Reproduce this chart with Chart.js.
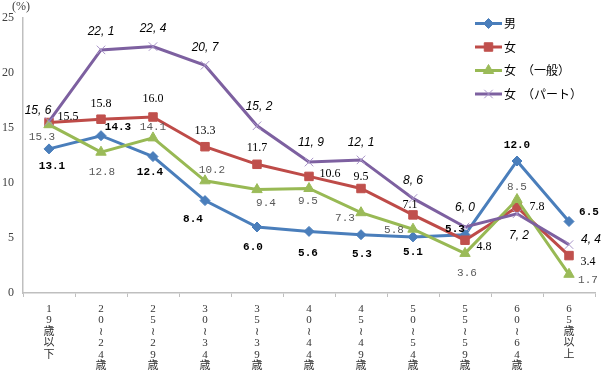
<!DOCTYPE html>
<html>
<head>
<meta charset="utf-8">
<script src="https://cdn.jsdelivr.net/npm/chart.js@4.4.1/dist/chart.umd.min.js"></script>
<style>body{margin:0;background:#fff}</style>
</head>
<body>
<canvas id="chart" width="602" height="376"></canvas>
<script>
// data
const categories = ['19歳以下', '20～24歳', '25～29歳', '30～34歳', '35～39歳', '40～44歳',
  '45～49歳', '50～54歳', '55～59歳', '60～64歳', '65歳以上'];
const seriesNames = ['男', '女', '女　（一般）', '女　（パート）'];
const maleValues = [13.1, 14.3, 12.4, 8.4, 6.0, 5.6, 5.3, 5.1, 5.3, 12.0, 6.5];
const femaleValues = [15.5, 15.8, 16.0, 13.3, 11.7, 10.6, 9.5, 7.1, 4.8, 7.8, 3.4];
const femaleRegularValues = [15.3, 12.8, 14.1, 10.2, 9.4, 9.5, 7.3, 5.8, 3.6, 8.5, 1.7];
const femalePartValues = [15.6, 22.1, 22.4, 20.7, 15.2, 11.9, 12.1, 8.6, 6.0, 7.2, 4.4];
const yTicks = [0, 5, 10, 15, 20, 25];

// where each value label sits relative to its point
const maleLabelOffsets = [[3,17],[17,-8],[-3,16],[-12,19],[-4,20],[-1,22],[1,20],[0,15],[-10,-5],[0,-16],[20,-9]];
const femaleLabelOffsets = [[19,-6],[0,-15],[0,-18],[0,-16],[0,-16],[21,-3],[0,-12],[-3,-10],[19,7],[20,0],[19,6]];
const regularLabelOffsets = [[-7,12],[1,20],[0,-11],[7,-11],[9,13],[-1,13],[-16,5],[-19,1],[2,20],[0,-12],[19,6]];
const partLabelOffsets = [[-11,-11],[0,-18],[0,-18],[0,-18],[2,-19],[2,-19],[0,-17],[0,-18],[0,-19],[2,22],[22,-5]];

const fmt = v => v.toFixed(1);
const labelStyles = [
  { font: 'bold 11px "Liberation Mono"', color: '#000', offsets: maleLabelOffsets, format: fmt },
  { font: '12px "Liberation Serif"', color: '#000', offsets: femaleLabelOffsets, format: fmt },
  { font: '11px "Liberation Mono"', color: '#595959', offsets: regularLabelOffsets, format: fmt },
  { font: 'italic 12px "Liberation Sans"', color: '#000', offsets: partLabelOffsets, format: v => fmt(v).replace('.', ', ') }
];

const valueLabels = {
  id: 'valueLabels',
  afterDatasetsDraw(chart) {
    const ctx = chart.ctx;
    chart.data.datasets.forEach((ds, i) => {
      const st = labelStyles[i];
      const meta = chart.getDatasetMeta(i);
      ctx.save();
      ctx.font = st.font;
      ctx.fillStyle = st.color;
      ctx.textAlign = 'center';
      ctx.textBaseline = 'middle';
      meta.data.forEach((pt, j) => {
        const off = st.offsets[j];
        ctx.fillText(st.format(ds.data[j]), pt.x + off[0], pt.y + off[1]);
      });
      ctx.restore();
    });
  }
};

const sideLegend = {
  id: 'sideLegend',
  afterDraw(chart) {
    const ctx = chart.ctx;
    ctx.save();
    // unit label
    ctx.font = '12px "Liberation Serif"';
    ctx.fillStyle = '#404040';
    ctx.textAlign = 'center';
    ctx.textBaseline = 'middle';
    ctx.fillText('(%)', 21, 7);

    chart.data.datasets.forEach((ds, i) => {
      const y = 23.5 + i * 23.5;
      ctx.strokeStyle = ds.borderColor;
      ctx.lineWidth = 3;
      ctx.beginPath();
      ctx.moveTo(475, y);
      ctx.lineTo(502, y);
      ctx.stroke();
      ctx.fillStyle = ds.pointBackgroundColor;
      ctx.strokeStyle = ds.pointBorderColor;
      ctx.lineWidth = ds.pointBorderWidth;
      Chart.helpers.drawPoint(ctx, {
        pointStyle: ds.pointStyle, radius: ds.pointRadius, rotation: 0, borderWidth: ds.pointBorderWidth
      }, 488.5, y);
      ctx.font = '12px "Noto Sans CJK JP"';
      ctx.fillStyle = '#000';
      ctx.textAlign = 'left';
      ctx.fillText(ds.label, 504, y);
    });
    ctx.restore();
  }
};

new Chart(document.getElementById('chart'), {
  type: 'line',
  data: {
    labels: categories,
    datasets: [
      { label: seriesNames[0], data: maleValues, borderColor: '#4A7EBB', borderWidth: 3,
        pointStyle: 'rectRot', pointRadius: 5, pointBackgroundColor: '#4A7EBB', pointBorderColor: '#4A7EBB', pointBorderWidth: 1, order: 3 },
      { label: seriesNames[1], data: femaleValues, borderColor: '#BE4B48', borderWidth: 3,
        pointStyle: 'rect', pointRadius: 6, pointBackgroundColor: '#C0504D', pointBorderColor: '#C0504D', pointBorderWidth: 1, order: 2 },
      { label: seriesNames[2], data: femaleRegularValues, borderColor: '#98B954', borderWidth: 3,
        pointStyle: 'triangle', pointRadius: 6, pointBackgroundColor: '#9BBB59', pointBorderColor: '#9BBB59', pointBorderWidth: 1, order: 1 },
      { label: seriesNames[3], data: femalePartValues, borderColor: '#7D60A0', borderWidth: 3,
        pointStyle: 'crossRot', pointRadius: 6, pointBackgroundColor: '#A894C8', pointBorderColor: '#A894C8', pointBorderWidth: 1, order: 0 }
    ]
  },
  options: {
    responsive: false,
    animation: false,
    layout: { padding: { top: 18, right: 7, left: 0, bottom: 0 } },
    plugins: { legend: { display: false }, tooltip: { enabled: false } },
    scales: {
      x: {
        offset: true,
        grid: { display: true, drawOnChartArea: false, drawTicks: true, tickLength: 4, color: '#bfbfbf', offset: true },
        border: { display: true, color: '#bfbfbf', width: 1.5 },
        ticks: {
          autoSkip: false, maxRotation: 0, minRotation: 0, padding: 6, color: '#333',
          font: { family: '"Liberation Serif", "Noto Sans CJK JP"', size: 11, lineHeight: 1.05 },
          callback: function (value) {
            return Array.from(this.getLabelForValue(value)).map(ch => ch === '～' ? '≀' : ch);
          }
        },
        afterFit: s => { s.height = 83; }
      },
      y: {
        min: 0, max: 25,
        afterBuildTicks: s => { s.ticks = yTicks.map(v => ({ value: v })); },
        grid: { display: true, drawOnChartArea: false, drawTicks: false, color: '#bfbfbf' },
        border: { display: true, color: '#bfbfbf', width: 1.5 },
        ticks: { padding: 9, color: '#404040', font: { family: '"Liberation Serif"', size: 12 } },
        afterFit: s => { s.width = 23; }
      }
    }
  },
  plugins: [valueLabels, sideLegend]
});
</script>
</body>
</html>
